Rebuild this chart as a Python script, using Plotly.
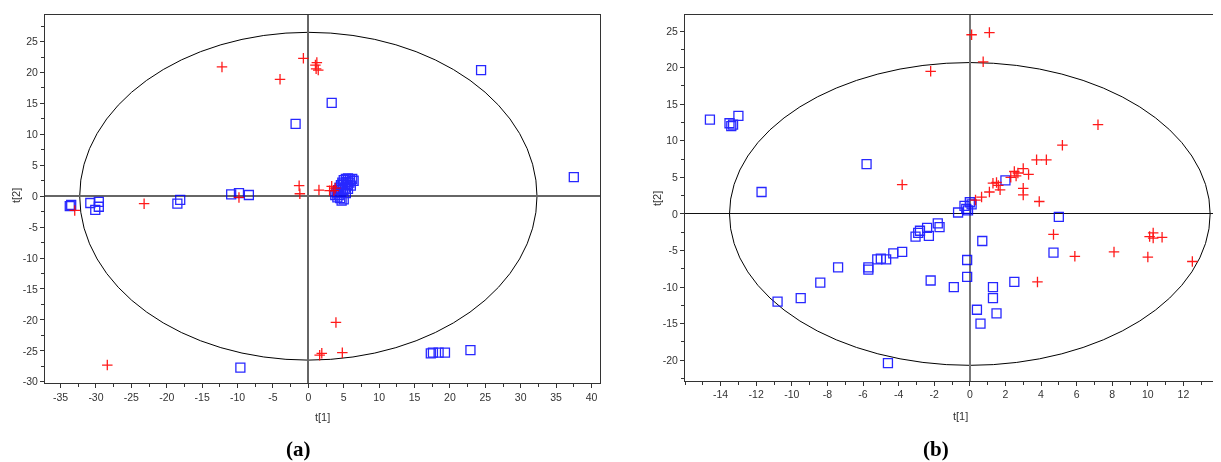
import plotly.graph_objects as go

# ---------------- Panel (a) data ----------------
a_blue_x = [-33.7, -33.5, -30.8, -29.6, -30.1, -29.6, -18.5, -18.1, -10.9, -9.8, -8.4, -1.8, 3.3, 24.4, 37.5,
            -9.6, 17.3, 17.6, 18.4, 19.3, 22.9,
            3.8, 4.0, 4.2, 4.4, 4.6, 4.8, 5.0, 5.3, 5.6, 5.9, 6.2, 6.4, 5.8, 5.5, 5.2, 4.9, 4.6, 4.3, 4.5, 4.7,
            5.0, 5.3, 5.6, 6.0, 4.1, 5.4, 4.9]
a_blue_y = [-1.6, -1.4, -1.1, -0.9, -2.2, -1.7, -1.2, -0.6, 0.3, 0.5, 0.2, 11.7, 15.1, 20.4, 3.1,
            -27.7, -25.4, -25.3, -25.3, -25.3, -24.9,
            0.2, 0.6, 1.0, 1.4, 1.8, 2.2, 2.6, 2.8, 2.9, 2.7, 2.8, 2.5, 2.2, 1.8, 1.4, 1.0, 0.6, 0.2, -0.3, -0.7,
            -0.5, 0.5, 1.2, 1.7, -0.2, 2.3, 1.9]
a_red_x = [-12.2, -4.0, -0.7, 1.2, 1.1, 1.4, 1.0, -1.3, -1.2, -23.2, -33.0, -9.8, 1.5, 3.3, 3.0, 3.6, 3.8,
           -28.4, 3.9, 1.6, 1.9, 4.8]
a_red_y = [20.9, 18.9, 22.3, 21.6, 20.6, 20.4, 21.2, 1.7, 0.4, -1.2, -2.3, -0.2, 1.0, 1.6, 0.9, 0.9, 1.3,
           -27.3, -20.4, -25.7, -25.4, -25.3]
a_xticks = [-35, -30, -25, -20, -15, -10, -5, 0, 5, 10, 15, 20, 25, 30, 35, 40]
a_yticks = [-30, -25, -20, -15, -10, -5, 0, 5, 10, 15, 20, 25]

# ---------------- Panel (b) data ----------------
b_blue_x = [-14.6, -13.5, -13.3, -13.4, -13.0, -11.7, -5.8, -10.8, -9.5, -8.4, -7.4, -5.7, -5.7, -5.2, -5.0,
            -4.7, -4.3, -3.8, -4.6, -2.2, -3.05, -2.9, -2.8, -2.4, -2.3, -1.8, -1.7, -0.66, -0.3, -0.2, 0.0,
            0.1, -0.1, 2.0, 5.0, 0.7, -0.15, -0.15, -0.9, 1.3, 1.3, 0.4, 1.5, 0.6, 2.5, 4.7]
b_blue_y = [12.9, 12.4, 12.2, 12.0, 13.4, 3.0, 6.8, -12.0, -11.5, -9.4, -7.3, -7.3, -7.6, -6.2, -6.1,
            -6.2, -5.4, -5.2, -20.4, -9.1, -3.1, -2.6, -2.3, -1.9, -3.0, -1.3, -1.8, 0.2, 1.1, 0.7, 1.6,
            1.3, 0.5, 4.6, -0.4, -3.7, -6.3, -8.6, -10.0, -10.0, -11.5, -13.1, -13.6, -15.0, -9.3, -5.3]
b_red_x = [-2.2, -3.8, 0.1, 1.1, 0.75, 7.2, 5.2, 3.75, 4.3, 3.0, 2.5, 2.6, 3.3, 2.3, 2.7, 1.5, 1.3, 1.6,
           1.7, 1.1, 0.66, 0.32, 3.0, 3.0, 3.9, 4.7, 5.9, 8.1, 10.0, 10.3, 10.1, 10.3, 10.8, 12.5, 3.8]
b_red_y = [19.5, 4.0, 24.5, 24.8, 20.8, 12.2, 9.4, 7.4, 7.4, 6.2, 5.8, 5.2, 5.4, 5.0, 5.6, 4.3, 4.2, 3.9,
           3.3, 3.0, 2.3, 1.9, 3.5, 2.6, 1.7, -2.8, -5.8, -5.2, -5.9, -2.6, -3.1, -3.3, -3.2, -6.5, -9.3]
b_xticks = [-14, -12, -10, -8, -6, -4, -2, 0, 2, 4, 6, 8, 10, 12, 14]
b_yticks = [-20, -15, -10, -5, 0, 5, 10, 15, 20, 25]

# ellipse semi-axes (Hotelling T2)
a_ellipse = [32.3, 26.5]
b_ellipse = [13.5, 20.7]

BLUE = "#0000ff"
RED = "#ff0000"
FONT = "Liberation Sans"

fig = go.Figure()

def add_panel(bx, by, rx, ry, xa, ya):
    fig.add_trace(go.Scatter(x=bx, y=by, mode="markers", xaxis=xa, yaxis=ya,
                             marker=dict(symbol="square-open", size=9, color=BLUE,
                                         line=dict(width=1.3, color=BLUE)),
                             opacity=0.85, showlegend=False))
    fig.add_trace(go.Scatter(x=rx, y=ry, mode="markers", xaxis=xa, yaxis=ya,
                             marker=dict(symbol="cross-thin-open", size=7.5, color=RED,
                                         line=dict(width=1.3, color=RED)),
                             opacity=0.9, showlegend=False))

add_panel(a_blue_x, a_blue_y, a_red_x, a_red_y, "x", "y")
add_panel(b_blue_x, b_blue_y, b_red_x, b_red_y, "x2", "y2")

fig.add_shape(type="circle", xref="x", yref="y", x0=-a_ellipse[0], x1=a_ellipse[0],
              y0=-a_ellipse[1], y1=a_ellipse[1], line=dict(color="black", width=1), layer="below")
fig.add_shape(type="circle", xref="x2", yref="y2", x0=-b_ellipse[0], x1=b_ellipse[0],
              y0=-b_ellipse[1], y1=b_ellipse[1], line=dict(color="black", width=1), layer="below")

# page has an 8px body margin: figure pixel = page pixel - 8
OFF = 8
W, H = 1221 - OFF, 462 - OFF
tickfont = dict(family=FONT, size=10.5, color="#333")

def px(v):
    return (v - OFF) / W

def py(v):
    return 1 - (v - OFF) / H

def labels(vals):
    return [str(v) for v in vals]

def axis_common(ticks_vals):
    return dict(showgrid=False, ticks="outside", ticklen=4, tickwidth=1, tickcolor="#333",
                showline=True, linecolor="#333", linewidth=1, tickfont=tickfont, automargin=False,
                tickmode="array", tickvals=ticks_vals, ticktext=labels(ticks_vals),
                ticklabeloverflow="allow")

fig.update_layout(
    width=W, height=H, margin=dict(l=0, r=0, t=0, b=0, autoexpand=False),
    plot_bgcolor="white", paper_bgcolor="white",
    xaxis=dict(domain=[px(45), px(600)], range=[-37.2, 41.2], anchor="y",
               mirror=True, zeroline=True, zerolinecolor="#666", zerolinewidth=1.5,
               minor=dict(dtick=2.5, tick0=0, ticklen=3, ticks="outside", tickcolor="#333", showgrid=False),
               **axis_common(a_xticks)),
    yaxis=dict(domain=[py(383), py(15)], range=[-30.2, 29.3], anchor="x",
               mirror=True, zeroline=True, zerolinecolor="#666", zerolinewidth=1.5,
               minor=dict(dtick=2.5, tick0=0, ticklen=3, ticks="outside", tickcolor="#333", showgrid=False),
               **axis_common(a_yticks)),
    xaxis2=dict(domain=[px(685), 1.0], range=[-16.0, 14.11], anchor="y2",
                mirror=True, zeroline=True, zerolinecolor="#777", zerolinewidth=2,
                minor=dict(dtick=1, tick0=0, ticklen=3, ticks="outside", tickcolor="#333", showgrid=False),
                **axis_common(b_xticks)),
    yaxis2=dict(domain=[py(380.7), py(15)], range=[-22.8, 27.2], anchor="x2",
                mirror=False, zeroline=True, zerolinecolor="#111", zerolinewidth=1,
                minor=dict(dtick=2.5, tick0=0, ticklen=3, ticks="outside", tickcolor="#333", showgrid=False),
                **axis_common(b_yticks)),
)

ann_font = dict(family=FONT, size=11, color="#333")
common = dict(xref="paper", yref="paper", showarrow=False, xanchor="center", yanchor="middle")
annotations = [
    dict(text="t[1]", x=px(322), y=py(417), font=ann_font, **common),
    dict(text="t[2]", x=px(16), y=py(196), font=ann_font, textangle=-90, **common),
    dict(text="t[1]", x=px(960), y=py(416), font=ann_font, **common),
    dict(text="t[2]", x=px(657), y=py(199), font=ann_font, textangle=-90, **common),
    dict(text="<b>(a)</b>", x=px(298), y=py(449),
         font=dict(family="Liberation Serif", size=21, color="black"), **common),
    dict(text="<b>(b)</b>", x=px(936), y=py(449),
         font=dict(family="Liberation Serif", size=21, color="black"), **common),
]
fig.update_layout(annotations=annotations)

fig.write_html("out.html")
